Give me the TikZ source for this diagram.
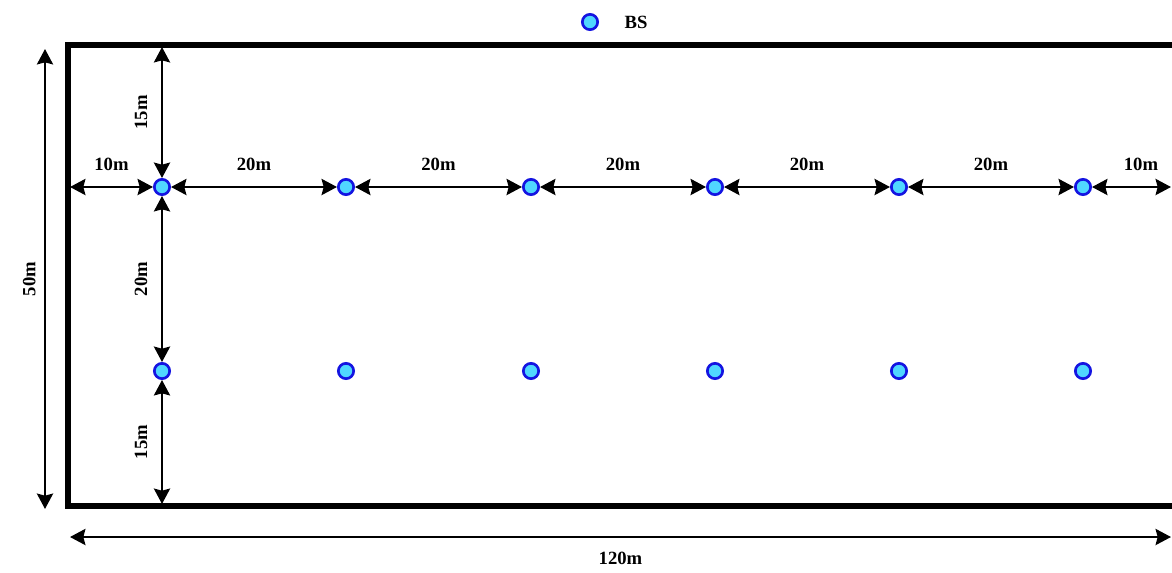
\documentclass[tikz,border=0pt]{standalone}
\usepackage{fontspec}
\setmainfont{Liberation Serif}
\usepackage{tikz}
\usetikzlibrary{arrows.meta, positioning, calc}

\definecolor{bsfill}{RGB}{80,215,255}
\definecolor{bsdraw}{RGB}{20,20,225}

\begin{document}
\begin{tikzpicture}[
    x=0.75pt, y=-0.75pt,
    bs/.style={circle, draw=bsdraw, line width=2pt, fill=bsfill, minimum size=11.5pt, inner sep=0pt},
    frame/.style={line width=3.8pt, line cap=rect},
    dim/.style={{Stealth[length=11.5pt, width=12pt, inset=1.5pt]}-{Stealth[length=11.5pt, width=12pt, inset=1.5pt]}, line width=2pt},
    lbl/.style={font=\fontsize{14}{16}\selectfont\bfseries, inner sep=1pt},
    vlbl/.style={lbl, rotate=90, anchor=south}
]
\useasboundingbox (0,0) rectangle (1172,572);

% frame corners and edges
\coordinate (tl) at (68,45);
\coordinate (bl) at (68,506);
\coordinate (tr) at (1180,45);
\coordinate (br) at (1180,506);
\draw[frame] (tr) -- (tl) -- (bl) -- (br);

\coordinate (left-in) at (70,187);
\coordinate (right-in) at (1171,187);
\coordinate (top-in) at (162,47);
\coordinate (bot-in) at (162,504);
\coordinate (h-top) at (45,49);
\coordinate (h-bot) at (45,509);
\coordinate (w-left) at (70,537);
\coordinate (w-right) at (1171,537);

% base stations
\node[bs] (bs11) at (162,187) {};
\node[bs] (bs12) at (346,187) {};
\node[bs] (bs13) at (531,187) {};
\node[bs] (bs14) at (715,187) {};
\node[bs] (bs15) at (899,187) {};
\node[bs] (bs16) at (1083,187) {};
\node[bs] (bs21) at (162,371) {};
\node[bs] (bs22) at (346,371) {};
\node[bs] (bs23) at (531,371) {};
\node[bs] (bs24) at (715,371) {};
\node[bs] (bs25) at (899,371) {};
\node[bs] (bs26) at (1083,371) {};

% legend
\node[bs] (legend) at (590,22) {};
\node[lbl, right=18pt of legend] (legendtxt) {BS};

% Arrows
\draw[dim] (left-in) -- node[lbl, above=10pt] {10m} (bs11);
\draw[dim] (bs11) -- node[lbl, above=10pt] {20m} (bs12);
\draw[dim] (bs12) -- node[lbl, above=10pt] {20m} (bs13);
\draw[dim] (bs13) -- node[lbl, above=10pt] {20m} (bs14);
\draw[dim] (bs14) -- node[lbl, above=10pt] {20m} (bs15);
\draw[dim] (bs15) -- node[lbl, above=10pt] {20m} (bs16);
\draw[dim] (bs16) -- node[lbl, above=10pt, pos=0.62] {10m} (right-in);
\draw[dim] (top-in) -- node[xshift=-9pt, vlbl] {15m} (bs11);
\draw[dim] (bs11) -- node[xshift=-9pt, vlbl] {20m} (bs21);
\draw[dim] (bs21) -- node[xshift=-9pt, vlbl] {15m} (bot-in);
\draw[dim] (h-top) -- node[xshift=-5pt, vlbl] {50m} (h-bot);
\draw[dim] (w-left) -- node[lbl, below=9pt] {120m} (w-right);

\end{tikzpicture}
\end{document}
